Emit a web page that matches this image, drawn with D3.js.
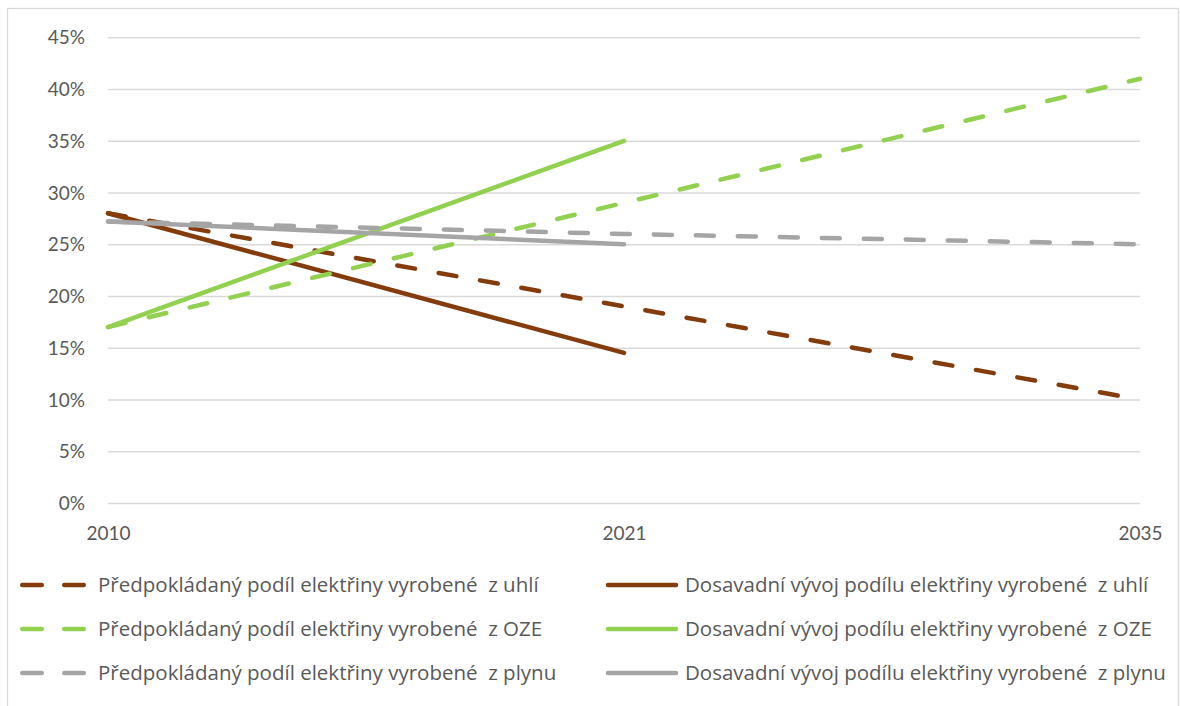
<!DOCTYPE html>
<html><head><meta charset="utf-8">
<script src="https://cdn.jsdelivr.net/npm/d3@7"></script>
<style>
html,body{margin:0;padding:0;background:#fff;}
svg text{font-family:Lato, "Open Sans", sans-serif; fill:#595959; white-space:pre;}
svg text.leg{font-family:"Open Sans", Lato, sans-serif;}
</style></head>
<body>
<script>
// ---- data ----
const years = ["2010", "2021", "2035"];
const yTicks = [0, 5, 10, 15, 20, 25, 30, 35, 40, 45];
const predCoal = [28, 19, 10];
const actCoal  = [28, 14.5, null];
const predOZE  = [17, 29, 41];
const actOZE   = [17, 35, null];
const predGas  = [27.2, 26, 25];
const actGas   = [27.2, 25, null];
const seriesNames = [
  "Předpokládaný podíl elektřiny vyrobené  z uhlí",
  "Dosavadní vývoj podílu elektřiny vyrobené  z uhlí",
  "Předpokládaný podíl elektřiny vyrobené  z OZE",
  "Dosavadní vývoj podílu elektřiny vyrobené  z OZE",
  "Předpokládaný podíl elektřiny vyrobené  z plynu",
  "Dosavadní vývoj podílu elektřiny vyrobené  z plynu"
];
const seriesValues = [predCoal, actCoal, predOZE, actOZE, predGas, actGas];
const seriesColors = ["#843C0C", "#843C0C", "#92D050", "#92D050", "#A5A5A5", "#A5A5A5"];
const seriesDashed = [true, false, true, false, true, false];

const W = 1180, H = 706;
const svg = d3.select("body").append("svg").attr("width", W).attr("height", H);

// outer frame
svg.append("rect").attr("x", 7.5).attr("y", 8.5).attr("width", 1171).attr("height", 710)
  .attr("fill", "none").attr("stroke", "#d9d9d9").attr("stroke-width", 1.3);

const x = d3.scalePoint().domain(years).range([108, 1140]);
const y = d3.scaleLinear().domain([0, 45]).range([503, 37.3]);

// gridlines
const yAxis = d3.axisLeft(y).tickValues(yTicks).tickSize(-(1140 - 108)).tickFormat(d => d + "%").tickPadding(23);
const gy = svg.append("g").attr("transform", "translate(108,0)").call(yAxis);
gy.select(".domain").remove();
gy.selectAll(".tick line").attr("stroke", "#d9d9d9").attr("stroke-width", 1.5);
gy.selectAll(".tick text").attr("font-size", 19).attr("dy", "0.35em").style("fill", "#595959");

// x axis labels
const xAxis = d3.axisBottom(x).tickSize(0).tickPadding(24);
const gx = svg.append("g").attr("transform", "translate(0,503)").call(xAxis);
gx.select(".domain").remove();
gx.selectAll(".tick text").attr("font-size", 19).style("fill", "#595959");

// lines
const line = d3.line().defined(d => d != null).x((d, i) => x(years[i])).y(d => y(d));
seriesValues.forEach((vals, k) => {
  svg.append("path")
    .attr("d", line(vals))
    .attr("fill", "none")
    .attr("stroke", seriesColors[k])
    .attr("stroke-width", 4.5)
    .attr("stroke-linecap", "round")
    .attr("stroke-linejoin", "round")
    .attr("stroke-dasharray", seriesDashed[k] ? "18 24" : null);
});

// legend
const rowsY = [585, 629, 673];
seriesNames.forEach((name, k) => {
  const col = k % 2, row = Math.floor(k / 2);
  const cy = rowsY[row];
  const g = svg.append("g");
  if (col === 0) {
    g.append("line").attr("x1", 22.25).attr("x2", 84).attr("y1", cy).attr("y2", cy)
      .attr("stroke", seriesColors[k]).attr("stroke-width", 4.5).attr("stroke-linecap", "round")
      .attr("stroke-dasharray", "19.5 22.5");
    g.append("text").attr("class", "leg").attr("x", 98).attr("y", cy).attr("dy", "0.35em").attr("font-size", 20.5).text(name);
  } else {
    g.append("line").attr("x1", 608).attr("x2", 676).attr("y1", cy).attr("y2", cy)
      .attr("stroke", seriesColors[k]).attr("stroke-width", 4.5).attr("stroke-linecap", "round");
    g.append("text").attr("class", "leg").attr("x", 685).attr("y", cy).attr("dy", "0.35em").attr("font-size", 20.5).text(name);
  }
});
</script>
</body></html>
